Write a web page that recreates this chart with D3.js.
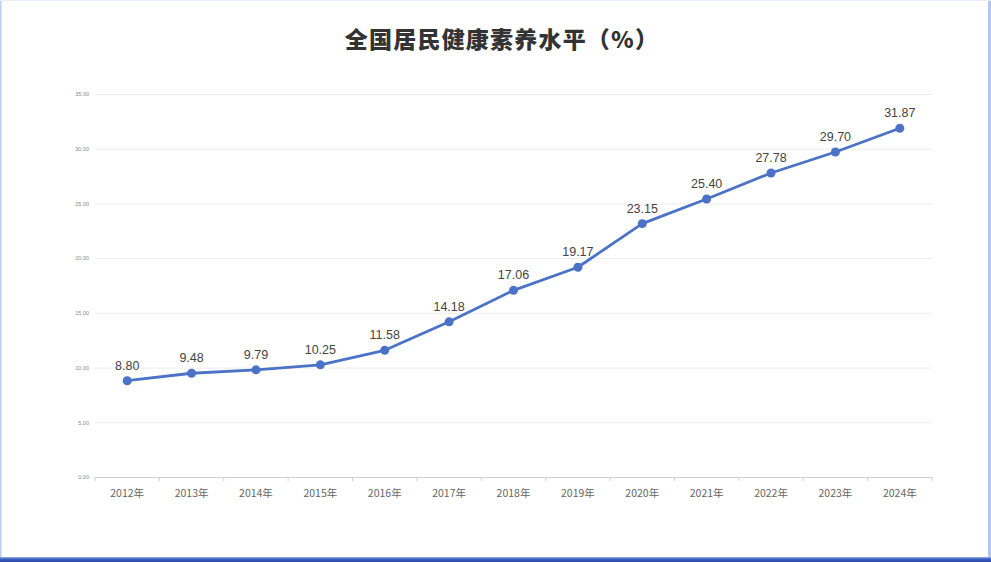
<!DOCTYPE html>
<html><head><meta charset="utf-8">
<script src="https://cdn.jsdelivr.net/npm/d3@7"></script>
<style>
html,body{margin:0;padding:0;background:#fff;}
svg{display:block;}
</style></head>
<body>
<svg id="chart" width="991" height="562"></svg>
<script>
const title = "全国居民健康素养水平（%）";
const years = ["2012年","2013年","2014年","2015年","2016年","2017年","2018年","2019年","2020年","2021年","2022年","2023年","2024年"];
const values = [8.80, 9.48, 9.79, 10.25, 11.58, 14.18, 17.06, 19.17, 23.15, 25.40, 27.78, 29.70, 31.87];
const yTicks = [0, 5, 10, 15, 20, 25, 30, 35];

const svg = d3.select("#chart");
const W = 991, H = 562;
const m = {left: 95, right: 59, top: 94, bottom: 85};

// frame
const defs = svg.append("defs");
const g1 = defs.append("linearGradient").attr("id","bot").attr("x1",0).attr("x2",0).attr("y1",0).attr("y2",1);
g1.append("stop").attr("offset","0%").attr("stop-color","#9fb4e8");
g1.append("stop").attr("offset","40%").attr("stop-color","#3c5fc4");
g1.append("stop").attr("offset","100%").attr("stop-color","#2a48a8");
svg.append("rect").attr("x",0).attr("y",0).attr("width",W).attr("height",H).attr("fill","#fff");
svg.append("rect").attr("x",0).attr("y",0).attr("width",1.5).attr("height",H).attr("fill","#b9cdf2");
svg.append("rect").attr("x",W-3).attr("y",0).attr("width",3).attr("height",H).attr("fill","#b4c6f0");
svg.append("rect").attr("x",0).attr("y",0).attr("width",W).attr("height",1).attr("fill","#e6eefb");
svg.append("rect").attr("x",0).attr("y",H-5).attr("width",W).attr("height",5).attr("fill","url(#bot)");

const x = d3.scaleBand().domain(years).range([m.left, W - m.right]);
const y = d3.scaleLinear().domain([0, 35]).range([H - m.bottom, m.top]);

svg.append("text").attr("x", 502).attr("y", 48)
  .attr("text-anchor","middle")
  .attr("font-family","'Noto Sans CJK SC', sans-serif")
  .attr("font-weight","900").attr("font-size",23).attr("letter-spacing",1.2).attr("fill","#333")
  .text(title);

// grid
const yAxis = d3.axisLeft(y).tickValues(yTicks).tickFormat(d3.format(".2f")).tickSize(-(W - m.left - m.right)).tickPadding(6);
const ga = svg.append("g").attr("transform",`translate(${m.left},0)`).call(yAxis);
ga.select(".domain").remove();
ga.selectAll(".tick line").attr("stroke","#ececec").attr("stroke-width",1);
ga.selectAll(".tick text").attr("font-family","'Liberation Sans', Arial, sans-serif").attr("font-size",5.5).attr("fill","#888");

const xAxis = d3.axisBottom(x).tickSize(0).tickPadding(13);
const gx = svg.append("g").attr("transform",`translate(0,${H - m.bottom})`).call(xAxis);
gx.select(".domain").attr("stroke","#d0d0d0");
gx.selectAll(".tick text").attr("font-family","'Noto Sans CJK SC', sans-serif").attr("font-size",10.5).attr("fill","#666");
// tick marks at band boundaries
const bounds = years.map(d => x(d)).concat([x(years[years.length-1]) + x.bandwidth()]);
svg.append("g").selectAll("line").data(bounds).join("line")
  .attr("x1", d => d).attr("x2", d => d)
  .attr("y1", H - m.bottom).attr("y2", H - m.bottom + 4)
  .attr("stroke","#d0d0d0");

const cx = d => x(d) + x.bandwidth()/2;
const pts = years.map((d,i) => [cx(d), y(values[i])]);
svg.append("path").datum(pts)
  .attr("d", d3.line())
  .attr("fill","none").attr("stroke","#4a72c6").attr("stroke-width",2.8).attr("stroke-linejoin","round");
svg.append("g").selectAll("circle").data(pts).join("circle")
  .attr("cx", d => d[0]).attr("cy", d => d[1]).attr("r", 4.5).attr("fill","#4a72c6");
svg.append("g").selectAll("text").data(values).join("text")
  .attr("x", (d,i) => cx(years[i])).attr("y", d => y(d) - 11)
  .attr("text-anchor","middle")
  .attr("font-family","'Liberation Sans', Arial, sans-serif").attr("font-size",12.5).attr("fill","#444")
  .text(d => d.toFixed(2));
</script>
</body></html>
